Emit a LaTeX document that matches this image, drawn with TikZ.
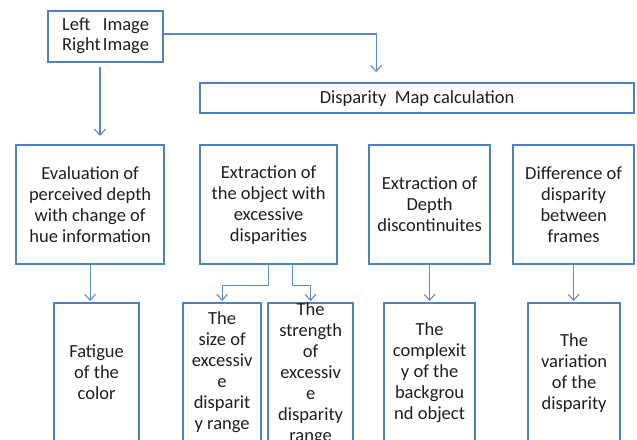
\documentclass[tikz,border=0pt]{standalone}
\usepackage{fontspec}
\setmainfont{Carlito}
\usetikzlibrary{arrows.meta}
\definecolor{boxblue}{HTML}{4F81BD}
\definecolor{linkblue}{HTML}{5B8BC6}
\definecolor{txt}{HTML}{1E1E1E}
\tikzset{
  box/.style={draw=boxblue, line width=2.2pt, anchor=north west, inner sep=0pt,
    align=center, text=txt, font=\fontsize{18.5}{21}\selectfont},
  link/.style={draw=linkblue, line width=1.1pt},
  arr/.style={link, -{Straight Barb[length=6pt,width=11pt,line width=1.1pt]}}
}
\begin{document}
\begin{tikzpicture}[x=1pt,y=-1pt]
\useasboundingbox (0,0) rectangle (637,439);
\begin{scope}
\clip (0,0) rectangle (637,439);
% top
\node[box, minimum width=115, minimum height=51, font=\fontsize{18.5}{21}\selectfont] (img) at (47,10)
  {\begin{tabular}{@{}l@{\hspace{2pt}}l@{}}Left & Image\\[-1pt] Right & Image\end{tabular}};
\node[box, minimum width=434, minimum height=30] (disp) at (199,82) {Disparity\ \ Map calculation};
% row 2
\node[box, minimum width=148, minimum height=119] (eval) at (15,144)
  {Evaluation of\\perceived depth\\with change of\\hue information};
\node[box, minimum width=137, minimum height=119] (extr) at (199,144)
  {Extraction of\\the object with\\excessive\\disparities};
\node[box, minimum width=121, minimum height=119] (depth) at (368,144)
  {Extraction of\\Depth\\discontinuites};
\node[box, minimum width=121, minimum height=119] (diff) at (512,144)
  {Difference of\\disparity\\between\\frames};
% row 3
\node[box, minimum width=85, minimum height=139] (fat) at (53,302)
  {Fatigue\\of the\\color};
\node[box, minimum width=78, minimum height=139] (size) at (182,302)
  {The\\size of\\excessiv\\e\\disparit\\y range};
\node[box, minimum width=85, minimum height=139] (str) at (267,302)
  {The\\strength\\of\\excessiv\\e\\disparity\\range};
\node[box, minimum width=91, minimum height=139] (cplx) at (383,302)
  {The\\complexit\\y of the\\backgrou\\nd object};
\node[box, minimum width=92, minimum height=139] (var) at (527,302)
  {The\\variation\\of the\\disparity};
% connectors
\coordinate (turn) at (375,34);
\draw[arr, shorten >=10pt] (img.east |- turn) -| ([xshift=-41pt]disp.north);
\coordinate (down) at (100,0);
\draw[arr, shorten <=4pt, shorten >=8pt] (img.south -| down) -- (eval.north -| down);
\draw[arr, shorten >=1pt] (eval.south) -- (eval.south |- fat.north);
\draw[arr, shorten >=1pt] (extr.south) -- ++(0,20) -| (size.north);
\draw[arr, shorten >=1pt] ([xshift=24pt]extr.south) -- ++(0,20) -| (str.north);
\draw[arr, shorten >=1pt] (depth.south) -- (depth.south |- cplx.north);
\draw[arr, shorten >=1pt] (diff.south) -- (diff.south |- var.north);
\end{scope}
\end{tikzpicture}
\end{document}
